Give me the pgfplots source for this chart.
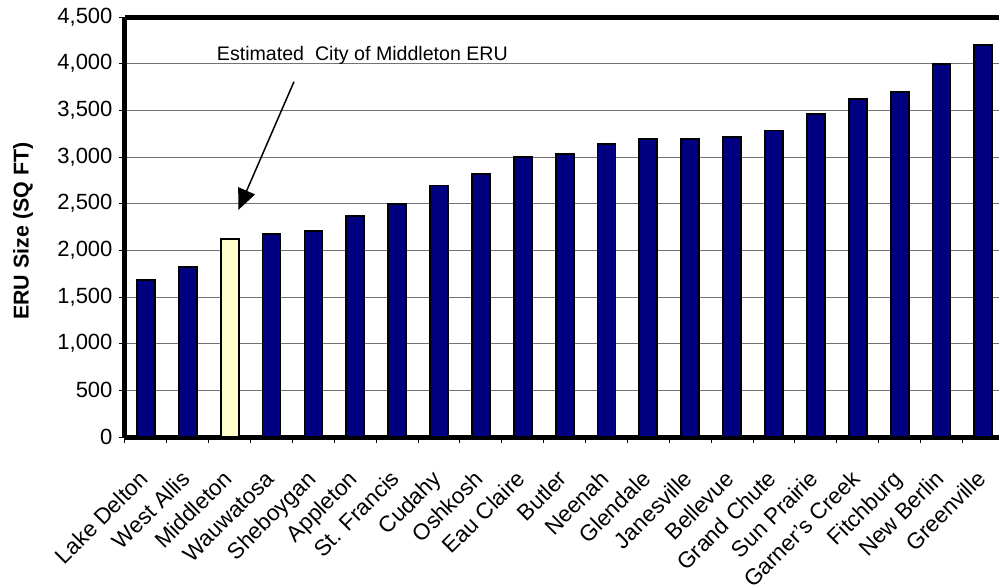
\documentclass[border=0pt]{standalone}
\usepackage{pgfplots}
\pgfplotsset{compat=1.18}
\usepackage{fontspec}
\setmainfont{Liberation Sans}
\usetikzlibrary{arrows.meta}
\definecolor{barnavy}{RGB}{0,0,128}
\definecolor{baryellow}{RGB}{255,255,204}
\begin{document}
\begin{tikzpicture}
\begin{axis}[
  at={(0pt,0pt)}, anchor=south west,
  scale only axis,
  width=879.3pt, height=420pt,
  xmin=-0.5, xmax=20.5,
  ymin=0, ymax=4500,
  axis x line*=bottom,
  axis y line*=left,
  axis line style={line width=5pt, black},
  ytick={0,500,...,4500},
  ymajorgrids,
  grid style={black!55, line width=1pt},
  xtick={0,...,20},
  xticklabels={Lake Delton,West Allis,Middleton,Wauwatosa,Sheboygan,Appleton,St. Francis,Cudahy,Oshkosh,Eau Claire,Butler,Neenah,Glendale,Janesville,Bellevue,Grand Chute,Sun Prairie,Garner's Creek,Fitchburg,New Berlin,Greenville},
  major x tick style={draw=none},
  minor xtick={-0.5,0.5,...,20.5},
  minor x tick style={black, line width=1pt},
  minor tick length=6pt,
  major tick length=6pt,
  tick align=outside,
  y tick style={black, line width=1pt},
  /pgf/number format/assume math mode=true,
  /pgf/number format/1000 sep={,},
  scaled y ticks=false,
  yticklabel style={font=\fontsize{22}{26}\selectfont, xshift=-3pt},
  x tick label style={font=\fontsize{22.5}{26}\selectfont, xshift=6pt, yshift=-35pt, rotate=45, anchor=base east},
  ylabel={ERU Size (SQ FT)},
  ylabel style={font=\fontsize{21.4}{25}\selectfont\bfseries, at={(axis description cs:-0.116,0.49)}, anchor=center},
  clip=false,
]
\addplot[ybar, bar width=18pt, bar shift=0pt, fill=barnavy, draw=black, line width=1.8pt]
  coordinates {(0,1685) (1,1825) (3,2172) (4,2211) (5,2365) (6,2500) (7,2695) (8,2815) (9,2998) (10,3030) (11,3137) (12,3197) (13,3197) (14,3215) (15,3283) (16,3462) (17,3622) (18,3697) (19,3998) (20,4198)};
\addplot[ybar, bar width=18pt, bar shift=0pt, fill=baryellow, draw=black, line width=1.8pt]
  coordinates {(2,2122)};
\draw[line width=5pt] (axis cs:-0.5,4500) -- (axis cs:20.5,4500);
\node[font=\fontsize{19.6}{23}\selectfont] at (axis cs:5.17,4093) {Estimated\ \ City of Middleton ERU};
\draw[line width=1.5pt, -{Triangle[length=21pt,width=18pt]}] (axis cs:3.536,3807) -- (axis cs:2.206,2432);
\end{axis}
\pgfresetboundingbox
\path[use as bounding box] (-125pt,-149pt) rectangle (874pt,437pt);
\end{tikzpicture}
\end{document}
